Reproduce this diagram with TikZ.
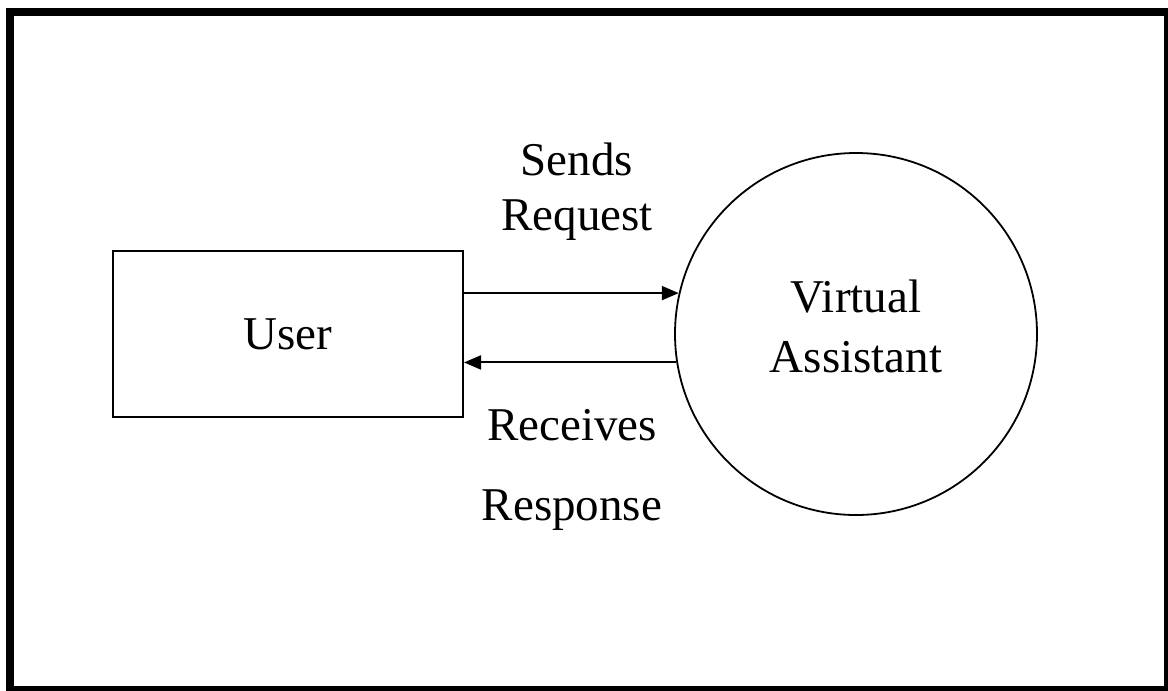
\documentclass[tikz,border=0pt]{standalone}
\usepackage{fontspec}
\setmainfont{Liberation Serif}
\usetikzlibrary{arrows.meta,positioning}

\begin{document}
\begin{tikzpicture}[x=1pt,y=-1pt,
        every node/.style={font=\fontsize{47}{60}\selectfont},
        entity/.style={draw, line width=2pt, minimum width=350pt, minimum height=166pt},
        process/.style={draw, circle, line width=1.8pt, minimum size=362pt, inner sep=0pt},
        flow/.style={line width=2pt, -{Triangle[length=17pt,width=14pt]}},
        flowtext/.style={anchor=base}]
        \useasboundingbox (0,0) rectangle (1168,691);
        \draw[line width=8pt] (10,12) rectangle (1168,690);
        % the two parties
        \node[entity] (user) at (288,334) {User};
        \node[process] (va) at (856,334) {};
        \node[align=center] (vatext) at (856,326) {Virtual\\Assistant};
        % request and response
        \draw[flow] (va.167.2 -| user.east) -- (va.167.2);
        \draw[flow] (va.189.9) -- (va.189.9 -| user.east);
        \node[flowtext] (sends) at (577,175) {Sends};
        \node[flowtext] (request) at (577,230) {Request};
        \node[flowtext] (receives) at (572,440) {Receives};
        \node[flowtext] (response) at (572,520) {Response};
\end{tikzpicture}
\end{document}
